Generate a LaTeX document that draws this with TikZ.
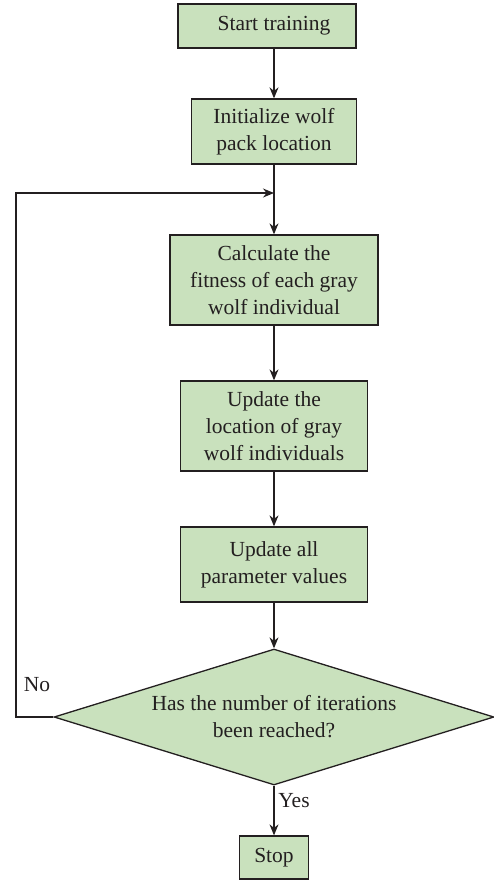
\documentclass[tikz,border=0pt]{standalone}
\usepackage{fontspec}
\setmainfont{Liberation Serif}
\usetikzlibrary{arrows.meta,shapes.geometric}
\definecolor{boxfill}{HTML}{C9E1BD}
\definecolor{ink}{HTML}{231F20}
\begin{document}
\begin{tikzpicture}[x=1pt,y=-1pt,
  font=\fontsize{21.5}{27}\selectfont, text=ink,
  box/.style={draw=ink, fill=boxfill, line width=1.3pt, align=center, inner sep=0pt},
  arr/.style={-{Stealth[length=11pt,width=9pt]}, line width=1.3pt, draw=ink},
  lbl/.style={inner sep=0pt}]
\useasboundingbox (0,0) rectangle (494,883);
\node[box, minimum width=178pt, minimum height=44pt] (start) at (267,26) {\hspace*{14pt}Start training};
\node[box, minimum width=165pt, minimum height=65pt] (init) at (274,131.5) {Initialize wolf\\pack location};
\node[box, minimum width=208pt, minimum height=90pt] (calc) at (274,280) {Calculate the\\fitness of each gray\\wolf individual};
\node[box, minimum width=187pt, minimum height=90pt] (upd) at (274,426) {Update the\\location of gray\\wolf individuals};
\node[box, minimum width=187pt, minimum height=75pt] (param) at (274,564.5) {Update all\\parameter values};
\node[box, shape=diamond, aspect=3.24, minimum width=440pt, minimum height=136pt] (dec) at (274,717) {Has the number of iterations\\been reached?};
\node[box, minimum width=69pt, minimum height=43pt] (stop) at (274,857.5) {Stop};
\coordinate (join) at (274,193);
\coordinate (fbcorner) at (16,717);
\draw[arr] (start.south -| init.north) -- (init.north);
\draw[line width=1.3pt, draw=ink] (init.south) -- (join);
\draw[arr] (join) -- (calc.north);
\draw[arr] (calc.south) -- (upd.north);
\draw[arr] (upd.south) -- (param.north);
\draw[arr] (param.south) -- (dec.north);
\draw[arr] (dec.south) -- (stop.north);
\draw[arr] (dec.west) -- (fbcorner) |- (join);
\node[lbl] (no) at (37,685) {No};
\node[lbl] (yes) at (294,801) {Yes};
\end{tikzpicture}
\end{document}
